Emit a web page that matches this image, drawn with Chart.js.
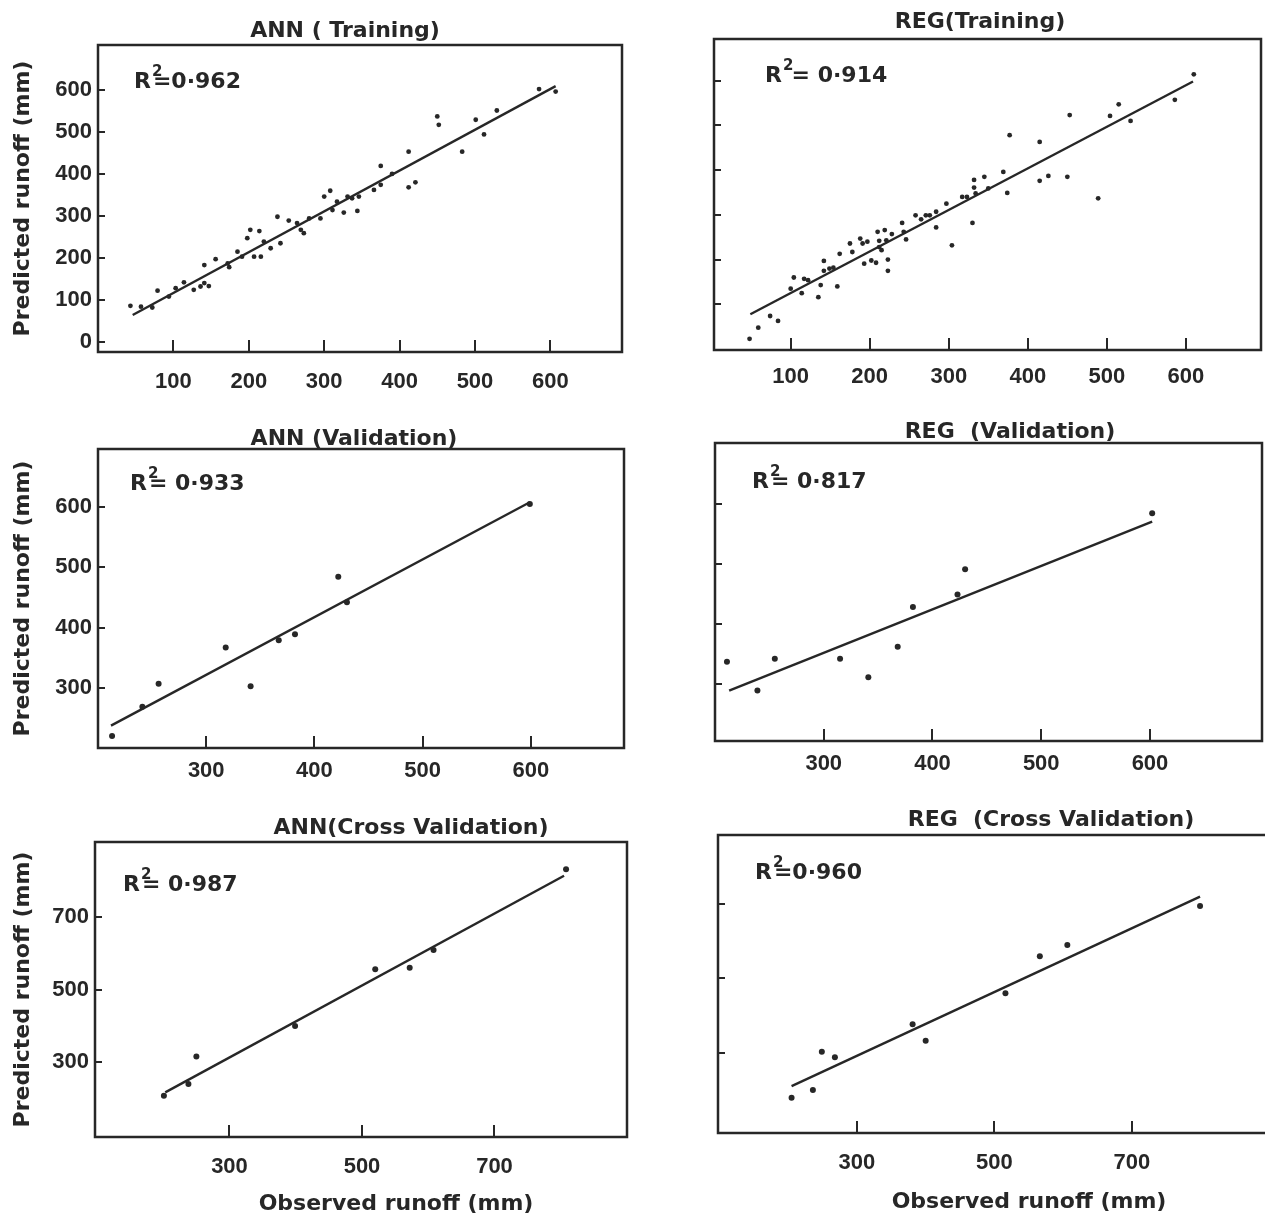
<!DOCTYPE html>
<html>
<head>
<meta charset="utf-8">
<title>Observed vs predicted runoff</title>
<script src="https://cdn.jsdelivr.net/npm/chart.js@4.4.0/dist/chart.umd.min.js"></script>
<style>
  html, body { margin: 0; padding: 0; background: #fff; overflow: hidden; }
  #page { position: relative; width: 1265px; height: 1216px; overflow: hidden; }
  #page canvas { position: absolute; left: 0; top: 0; }
</style>
</head>
<body>
<div id="page">
  <canvas id="annTrain" width="1280" height="1216"></canvas>
  <canvas id="regTrain" width="1280" height="1216"></canvas>
  <canvas id="annVal" width="1280" height="1216"></canvas>
  <canvas id="regVal" width="1280" height="1216"></canvas>
  <canvas id="annCross" width="1280" height="1216"></canvas>
  <canvas id="regCross" width="1280" height="1216"></canvas>
</div>
<script>
// observed (x) and predicted (y) runoff, mm
const annTrainObs = [43, 57, 72, 79, 94, 103, 114, 127, 136, 141, 147, 141, 156, 172, 174, 185, 191, 198, 202, 214,
  207, 216, 220, 229, 238, 242, 253, 264, 269, 273, 280, 295, 300, 308, 311, 317, 326, 331, 337, 344,
  346, 366, 375, 375, 390, 412, 412, 421, 450, 452, 483, 501, 512, 529, 585, 607];
const annTrainPred = [86, 84, 82, 122, 108, 128, 142, 124, 132, 140, 133, 183, 197, 187, 178, 215, 203, 247, 267, 264,
  203, 203, 239, 223, 298, 235, 289, 283, 267, 259, 294, 294, 346, 360, 314, 334, 308, 346, 342, 312,
  346, 362, 374, 419, 400, 453, 368, 380, 537, 517, 453, 529, 494, 551, 602, 596];
const annTrainFitX = [46, 607];
const annTrainFitY = [64, 609];

const regTrainObs = [48, 59, 74, 84, 100, 104, 114, 117, 122, 135, 138, 142, 142, 149, 154, 159, 162, 175, 178, 188,
  191, 193, 197, 202, 208, 210, 212, 212, 215, 219, 221, 223, 223, 228, 241, 243, 246, 258, 265, 271,
  276, 284, 284, 297, 304, 317, 323, 330, 332, 332, 334, 345, 350, 369, 374, 377, 415, 415, 426, 450,
  453, 489, 504, 515, 530, 586, 610];
const regTrainPred = [23, 48, 74, 63, 135, 160, 125, 157, 154, 116, 143, 197, 175, 180, 182, 140, 213, 236, 217, 247,
  236, 191, 240, 198, 193, 262, 228, 242, 221, 266, 243, 200, 175, 257, 282, 262, 245, 299, 290, 299,
  299, 307, 272, 325, 232, 340, 340, 282, 378, 361, 348, 385, 359, 396, 349, 478, 463, 376, 387, 385,
  523, 337, 521, 547, 510, 557, 614];
const regTrainFitX = [49, 609];
const regTrainFitY = [78, 598];

const annValObs = [213, 241, 256, 318, 341, 367, 382, 422, 430, 599];
const annValPred = [221, 269, 307, 367, 303, 379, 389, 484, 442, 604];
const annValFitX = [212, 599];
const annValFitY = [238, 607];

const regValObs = [211, 239, 255, 315, 341, 368, 382, 423, 430, 602];
const regValPred = [337, 289, 342, 342, 311, 362, 428, 449, 491, 584];
const regValFitX = [213, 602];
const regValFitY = [289, 570];

const annCrossObs = [201, 238, 250, 399, 520, 572, 608, 808];
const annCrossPred = [207, 239, 315, 399, 556, 560, 609, 832];
const annCrossFitX = [203, 805];
const annCrossFitY = [216, 814];

const regCrossObs = [205, 236, 249, 268, 381, 400, 516, 566, 606, 799];
const regCrossPred = [179, 200, 303, 288, 377, 332, 460, 560, 590, 695];
const regCrossFitX = [205, 799];
const regCrossFitY = [210, 720];

// tick labels
const trainTicksX = [100, 200, 300, 400, 500, 600];
const annTrainTicksY = [0, 100, 200, 300, 400, 500, 600];
const regTrainTicksY = [100, 200, 300, 400, 500, 600];
const valTicks = [300, 400, 500, 600];
const crossTicks = [300, 500, 700];

const ink = '#272727';
const tickFont = { family: 'Liberation Sans', weight: 'bold', size: 22 };
const textFont = 'bold 22px "DejaVu Sans"';

// frame, panel title, R² note and x title
const panelText = {
  id: 'panelText',
  afterDraw(chart, args, o) {
    const { ctx, chartArea: a } = chart;
    ctx.save();
    ctx.strokeStyle = ink;
    ctx.lineWidth = 2.5;
    ctx.strokeRect(a.left, a.top, a.right - a.left, a.bottom - a.top);
    ctx.fillStyle = ink;
    ctx.textBaseline = 'alphabetic';
    ctx.font = textFont;
    ctx.textAlign = 'center';
    ctx.fillText(o.title, a.left + o.titleX, a.top - o.titleGap);
    if (o.xTitle) ctx.fillText(o.xTitle, a.left + o.xTitleX, a.bottom + o.xTitleGap);
    ctx.textAlign = 'left';
    let x = a.left + o.r2X;
    const y = a.top + o.r2Y;
    ctx.fillText('R', x, y);
    x += ctx.measureText('R').width;
    ctx.font = 'bold 15px "DejaVu Sans"';
    ctx.fillText('2', x + 1, y - 12);
    ctx.font = textFont;
    ctx.fillText(o.r2, x + 2, y);
    ctx.restore();
  }
};

function makePanel(id, p) {
  const yW = p.yTitle ? p.box.l : 10;
  const xH = 60;
  new Chart(document.getElementById(id), {
    type: 'scatter',
    data: {
      datasets: [
        {
          data: p.obs.map((x, i) => ({ x, y: p.pred[i] })),
          pointRadius: p.dot,
          pointBackgroundColor: ink,
          pointBorderWidth: 0
        },
        {
          data: p.fitX.map((x, i) => ({ x, y: p.fitY[i] })),
          showLine: true,
          borderColor: ink,
          borderWidth: 2.4,
          pointRadius: 0
        }
      ]
    },
    options: {
      responsive: false,
      animation: false,
      layout: {
        padding: { left: p.box.l - yW, top: p.box.t, right: 1280 - p.box.r, bottom: 1216 - p.box.b - xH }
      },
      plugins: {
        legend: { display: false },
        tooltip: { enabled: false },
        panelText: p.text
      },
      scales: {
        x: {
          type: 'linear',
          min: p.xRange[0],
          max: p.xRange[1],
          afterBuildTicks: s => { s.ticks = p.xTicks.map(v => ({ value: v })); },
          afterFit: s => { s.height = xH; },
          grid: { drawOnChartArea: false, tickLength: -12, color: ink, lineWidth: 2 },
          border: { display: false },
          ticks: { padding: p.xPad, color: ink, font: tickFont }
        },
        y: {
          type: 'linear',
          min: p.yRange[0],
          max: p.yRange[1],
          afterBuildTicks: s => { s.ticks = p.yTicks.map(v => ({ value: v })); },
          afterFit: s => { s.width = yW; },
          grid: { drawOnChartArea: false, tickLength: -7, color: ink, lineWidth: 2 },
          border: { display: false },
          ticks: {
            padding: 13, color: ink, font: tickFont,
            callback: v => (p.yTitle ? v : '')
          },
          title: {
            display: p.yTitle,
            text: 'Predicted runoff (mm)',
            color: ink,
            font: { family: 'DejaVu Sans', weight: 'bold', size: 22 },
            padding: { top: 10, bottom: 0 }
          }
        }
      }
    },
    plugins: [panelText]
  });
}

makePanel('annTrain', {
  obs: annTrainObs, pred: annTrainPred, fitX: annTrainFitX, fitY: annTrainFitY,
  xTicks: trainTicksX, yTicks: annTrainTicksY, xRange: [0, 695], yRange: [-24, 707],
  box: { l: 98, t: 45, r: 622, b: 352 }, yTitle: true, dot: 2.4, xPad: 29,
  text: { title: 'ANN ( Training)', titleX: 247, titleGap: 8, r2: '=0·962', r2X: 36, r2Y: 43 }
});
makePanel('regTrain', {
  obs: regTrainObs, pred: regTrainPred, fitX: regTrainFitX, fitY: regTrainFitY,
  xTicks: trainTicksX, yTicks: regTrainTicksY, xRange: [3, 695], yRange: [-2, 693],
  box: { l: 714, t: 39, r: 1261, b: 350 }, yTitle: false, dot: 2.4, xPad: 26,
  text: { title: 'REG(Training)', titleX: 266, titleGap: 11, r2: ' = 0·914', r2X: 51, r2Y: 43 }
});
makePanel('annVal', {
  obs: annValObs, pred: annValPred, fitX: annValFitX, fitY: annValFitY,
  xTicks: valTicks, yTicks: valTicks, xRange: [200, 686], yRange: [201, 695],
  box: { l: 98, t: 449, r: 624, b: 748 }, yTitle: true, dot: 3, xPad: 22,
  text: { title: 'ANN (Validation)', titleX: 256, titleGap: 4, r2: '= 0·933', r2X: 32, r2Y: 41 }
});
makePanel('regVal', {
  obs: regValObs, pred: regValPred, fitX: regValFitX, fitY: regValFitY,
  xTicks: valTicks, yTicks: valTicks, xRange: [200, 703], yRange: [205, 701],
  box: { l: 715, t: 443, r: 1262, b: 741 }, yTitle: false, dot: 3, xPad: 22,
  text: { title: 'REG  (Validation)', titleX: 295, titleGap: 5, r2: '= 0·817', r2X: 37, r2Y: 45 }
});
makePanel('annCross', {
  obs: annCrossObs, pred: annCrossPred, fitX: annCrossFitX, fitY: annCrossFitY,
  xTicks: crossTicks, yTicks: crossTicks, xRange: [97, 900], yRange: [93, 907],
  box: { l: 95, t: 842, r: 627, b: 1137 }, yTitle: true, dot: 3, xPad: 29,
  text: { title: 'ANN(Cross Validation)', titleX: 316, titleGap: 8, r2: '= 0·987', r2X: 28, r2Y: 49,
    xTitle: 'Observed runoff (mm)', xTitleX: 301, xTitleGap: 73 }
});
makePanel('regCross', {
  obs: regCrossObs, pred: regCrossPred, fitX: regCrossFitX, fitY: regCrossFitY,
  xTicks: crossTicks, yTicks: crossTicks, xRange: [98, 908], yRange: [84, 886],
  box: { l: 718, t: 835, r: 1275, b: 1133 }, yTitle: false, dot: 3, xPad: 29,
  text: { title: 'REG  (Cross Validation)', titleX: 333, titleGap: 9, r2: '=0·960', r2X: 37, r2Y: 44,
    xTitle: 'Observed runoff (mm)', xTitleX: 311, xTitleGap: 75 }
});
</script>
</body>
</html>
